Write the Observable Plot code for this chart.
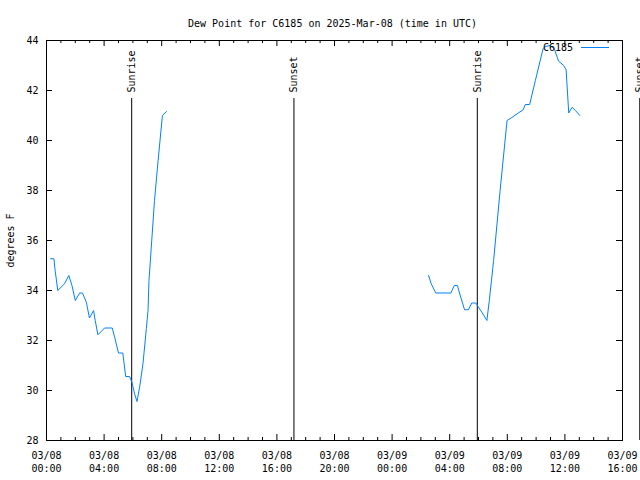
<!DOCTYPE html>
<html>
<head>
<meta charset="utf-8">
<script src="https://cdn.jsdelivr.net/npm/d3@7"></script>
<script src="https://cdn.jsdelivr.net/npm/@observablehq/plot@0.6"></script>
<style>
  html, body { margin: 0; padding: 0; background: #fff; }
  #wrap { position: relative; width: 640px; height: 480px; font-family: "DejaVu Sans Mono", monospace; }
  #legend { position: absolute; right: 31px; top: 42px; display: flex; align-items: center; font-size: 10px; }
  #legend .sw { width: 28px; border-top: 1px solid #0080ff; margin-left: 8px; }
</style>
</head>
<body>
<div id="wrap"></div>
<script>
const title = "Dew Point for C6185 on 2025-Mar-08 (time in UTC)";
const seriesName = "C6185";
const yLabel = "degrees F";

// Segment 1: 2025-03-08 (UTC)
const day1 = "2025-03-08";
const times1 = ["00:17","00:31","00:36","00:47","01:15","01:33","01:46","02:00","02:18","02:30",
                "02:46","02:59","03:16","03:23","03:34","04:02","04:34","04:44","05:00","05:18",
                "05:30","05:46","05:56","06:07","06:17","06:28","06:42","06:56","07:03","07:07",
                "07:30","07:45","08:03","08:20"];
const dew1 = [35.27,35.27,34.8,34.0,34.27,34.6,34.2,33.6,33.9,33.9,
              33.53,32.9,33.2,32.8,32.23,32.5,32.5,32.13,31.5,31.5,
              30.56,30.56,30.33,29.87,29.56,30.13,31.07,32.47,33.2,34.4,
              37.6,39.2,41.0,41.16];

// Segment 2: 2025-03-09 (UTC)
const day2 = "2025-03-09";
const times2 = ["02:32","02:43","03:02","04:05","04:19","04:32","04:46","05:02","05:18","05:32",
                "05:49","06:00","06:14","06:35","06:45","07:03","07:30","07:59","08:16","08:41",
                "09:06","09:15","09:33","09:57","10:29","10:38","10:59","11:16","11:28","11:34",
                "11:55","12:05","12:16","12:30","12:44","13:02"];
const dew2 = [34.6,34.27,33.9,33.9,34.2,34.2,33.73,33.23,33.23,33.5,
              33.5,33.33,33.13,32.8,33.6,35.2,38.0,40.8,40.9,41.07,
              41.23,41.44,41.44,42.4,43.67,43.76,43.8,43.67,43.33,43.17,
              43.0,42.83,41.1,41.33,41.2,41.0];

// Sun events
const sunTimes = ["2025-03-08T05:55","2025-03-08T17:11","2025-03-09T05:55","2025-03-09T17:12"];
const sunLabels = ["Sunrise","Sunset","Sunrise","Sunset"];

const xStart = "2025-03-08T00:00";
const xEnd = "2025-03-09T16:00";
const yTicks = [28,30,32,34,36,38,40,42,44];

const utc = s => new Date(s + ":00Z");
const data = [
  ...times1.map((t, i) => ({time: utc(day1 + "T" + t), dew: dew1[i], seg: 1})),
  ...times2.map((t, i) => ({time: utc(day2 + "T" + t), dew: dew2[i], seg: 2}))
];
const sun = sunTimes.map((t, i) => ({time: utc(t), label: sunLabels[i]}));

const x0 = utc(xStart), x1 = utc(xEnd);
const majorTicks = d3.utcHour.every(4).range(x0, new Date(+x1 + 1));
const minorTicks = d3.utcHour.every(1).range(x0, new Date(+x1 + 1)).filter(d => d.getUTCHours() % 4 !== 0);
const yMin = yTicks[0], yMax = yTicks[yTicks.length - 1];

const W = 640, H = 480, mL = 46, mR = 18, mT = 40, mB = 40;
const pxY = (yMax - yMin) / (H - mT - mB);          // degrees per px
const pxX = (+x1 - +x0) / (W - mL - mR);            // ms per px
const fmt = d3.utcFormat("%m/%d\n%H:%M");
const color = "#0080ff";

const chart = Plot.plot({
  width: W, height: H,
  marginLeft: mL, marginRight: mR, marginTop: mT, marginBottom: mB,
  style: {fontFamily: "DejaVu Sans Mono, monospace", fontSize: "10px", background: "#fff", color: "#000"},
  x: {type: "utc", domain: [x0, x1]},
  y: {domain: [yMin, yMax]},
  marks: [
    Plot.frame({stroke: "#000"}),
    // inward ticks, bottom & top
    Plot.ruleX(majorTicks, {x: d => d, y1: yMin, y2: yMin + 6 * pxY, stroke: "#000"}),
    Plot.ruleX(majorTicks, {x: d => d, y1: yMax - 6 * pxY, y2: yMax, stroke: "#000"}),
    Plot.ruleX(minorTicks, {x: d => d, y1: yMin, y2: yMin + 3 * pxY, stroke: "#000"}),
    Plot.ruleX(minorTicks, {x: d => d, y1: yMax - 3 * pxY, y2: yMax, stroke: "#000"}),
    // inward ticks, left & right
    Plot.ruleY(yTicks, {y: d => d, x1: x0, x2: new Date(+x0 + 6 * pxX), stroke: "#000"}),
    Plot.ruleY(yTicks, {y: d => d, x1: new Date(+x1 - 6 * pxX), x2: x1, stroke: "#000"}),
    Plot.axisX({ticks: majorTicks, tickSize: 0, tickPadding: 9, tickFormat: fmt, lineHeight: 1.3, label: null}),
    Plot.axisY({ticks: yTicks, tickSize: 0, tickPadding: 8, label: yLabel, labelAnchor: "center", labelArrow: "none", labelOffset: 40}),
    // sunrise / sunset
    Plot.ruleX(sun, {x: "time", y1: yMin, y2: 41.68, stroke: "#000"}),
    Plot.text(sun, {x: "time", y: 41.92, text: "label", rotate: -90, textAnchor: "start", lineAnchor: "middle", fill: "#000"}),
    // data
    Plot.line(data, {x: "time", y: "dew", z: "seg", stroke: color, strokeWidth: 1}),
    // title
    Plot.text([title], {frameAnchor: "top", dy: -21, dx: -2, text: d => d, fontSize: 10, fill: "#000"})
  ]
});

const wrap = document.getElementById("wrap");
wrap.appendChild(chart);
const legend = document.createElement("div");
legend.id = "legend";
legend.innerHTML = `<span>${seriesName}</span><span class="sw"></span>`;
wrap.appendChild(legend);
</script>
</body>
</html>
